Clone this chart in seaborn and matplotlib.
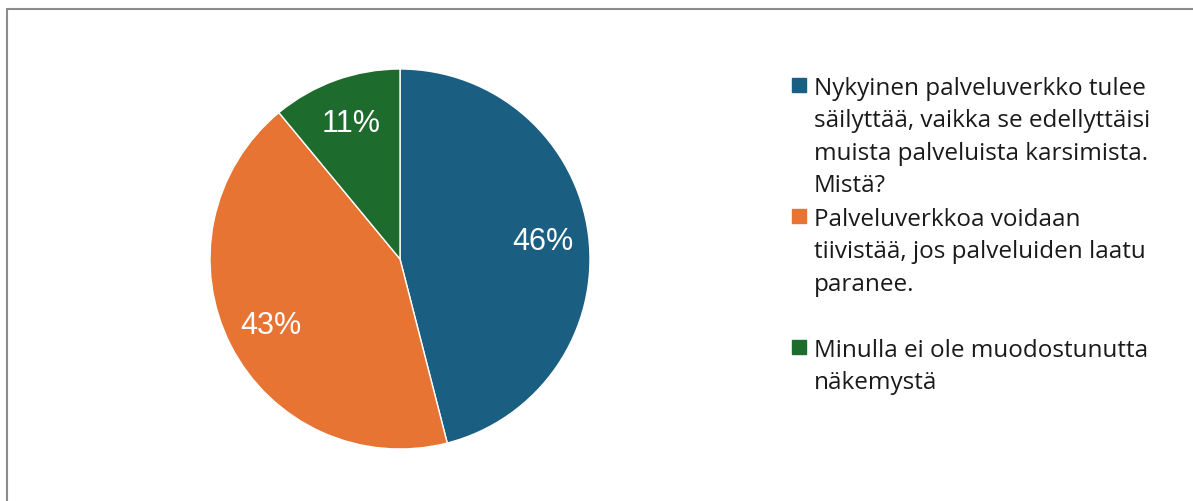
import matplotlib
matplotlib.use("Agg")
import matplotlib.pyplot as plt
import seaborn as sns
from matplotlib.patches import Rectangle

# data
categories = [
    "Nykyinen palveluverkko tulee\nsäilyttää, vaikka se edellyttäisi\nmuista palveluista karsimista.\nMistä?",
    "Palveluverkkoa voidaan\ntiivistää, jos palveluiden laatu\nparanee.",
    "Minulla ei ole muodostunutta\nnäkemystä",
]
shares = [46, 43, 11]
colors = ["#1a5e82", "#e87434", "#1e6b2e"]

sns.set_theme(style="white")
plt.rcParams["font.family"] = ["Open Sans", "DejaVu Sans"]

W, H = 1193, 502
fig = plt.figure(figsize=(W / 100, H / 100), dpi=100)

# pie axes: centre (400, 260), radius 190 px
cx, cy, r = 400, 260, 190
ax = fig.add_axes([(cx - r) / W, (H - cy - r) / H, 2 * r / W, 2 * r / H])
wedges, texts, autotexts = ax.pie(
    shares,
    colors=colors,
    startangle=90,
    counterclock=False,
    autopct="%d%%",
    pctdistance=0.76,
    radius=1.0,
    wedgeprops=dict(edgecolor="white", linewidth=1),
    textprops=dict(color="white", fontsize=22, family="Liberation Sans"),
)
ax.set_xlim(-1, 1)
ax.set_ylim(-1, 1)
ax.set_aspect("equal")
ax.axis("off")

# legend drawn by hand so the marker sits on the first line of each entry
lx, tx = 792, 814
starts = [86, 217, 348]
for lab, col, y0 in zip(categories, colors, starts):
    fig.patches.append(Rectangle((lx / W, (H - y0 - 7) / H), 14 / W, 14 / H,
                                 transform=fig.transFigure, color=col))
    fig.text(tx / W, (H - y0 + 9) / H, lab, fontsize=17.5, color="#1a1a1a",
             va="top", ha="left", linespacing=1.47)

# chart frame (left and top edges visible)
fig.add_artist(plt.Line2D([7 / W, 7 / W], [0, (H - 9.5) / H], color="#8c8c8c", lw=1.5,
                          transform=fig.transFigure))
fig.add_artist(plt.Line2D([7 / W, 1], [(H - 9.5) / H, (H - 9.5) / H], color="#8c8c8c", lw=1.5,
                          transform=fig.transFigure))

fig.savefig("out.png", dpi=100, facecolor="white")
